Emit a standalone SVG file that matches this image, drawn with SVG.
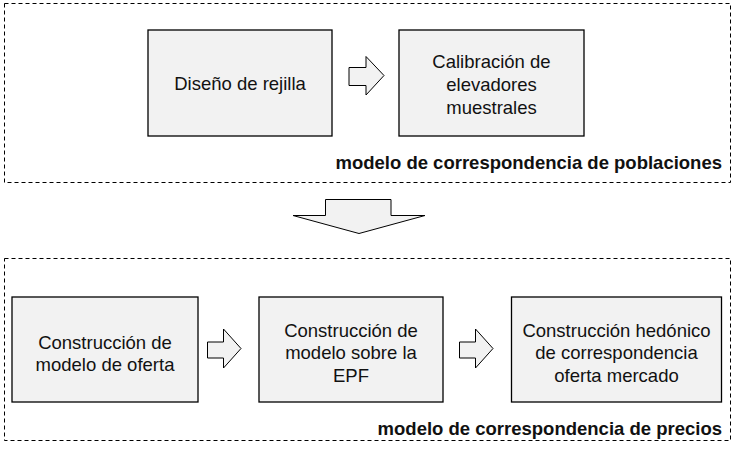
<svg xmlns="http://www.w3.org/2000/svg" width="735" height="454" viewBox="0 0 735 454">
<style>
.grp{fill:none;stroke:#000;stroke-width:1;stroke-dasharray:4 3}
.box{fill:#f2f2f2;stroke:#000;stroke-width:1.3}
.arr{fill:#f2f2f2;stroke:#000;stroke-width:1}
text{font-family:"Liberation Sans",Arial,sans-serif;fill:#111}
.t{font-size:18.5px;text-anchor:middle}
.lbl{font-size:18.5px;font-weight:bold;text-anchor:end}
</style>
<rect width="735" height="454" fill="#fff"/>
<g id="grupo-poblaciones">
<rect class="grp" x="4.5" y="3.5" width="726" height="179"/>
<text class="lbl" x="722" y="169">modelo de correspondencia de poblaciones</text>
</g>
<g id="grupo-precios">
<rect class="grp" x="4.5" y="258.5" width="726" height="182"/>
<text class="lbl" x="722" y="435">modelo de correspondencia de precios</text>
</g>
<g id="n1">
<rect class="box" x="148" y="30" width="184" height="106"/>
<text class="t" x="240" y="89.5">Diseño de rejilla</text>
</g>
<g id="n2">
<rect class="box" x="399" y="30" width="185" height="106"/>
<text class="t" x="491.5"><tspan x="491.5" y="67.5">Calibración de</tspan><tspan x="491.5" y="90.5">elevadores</tspan><tspan x="491.5" y="113.5">muestrales</tspan></text>
</g>
<g id="n3">
<rect class="box" x="12" y="297" width="186" height="105"/>
<text class="t" x="105"><tspan x="105" y="349">Construcción de</tspan><tspan x="105" y="371">modelo de oferta</tspan></text>
</g>
<g id="n4">
<rect class="box" x="259" y="297" width="184" height="105"/>
<text class="t" x="351"><tspan x="351" y="336.5">Construcción de</tspan><tspan x="351" y="359">modelo sobre la</tspan><tspan x="351" y="381.5">EPF</tspan></text>
</g>
<g id="n5">
<rect class="box" x="511.5" y="297" width="210" height="105"/>
<text class="t" x="616.5"><tspan x="616.5" y="336.5">Construcción hedónico</tspan><tspan x="616.5" y="359">de correspondencia</tspan><tspan x="616.5" y="381.5">oferta mercado</tspan></text>
</g>
<g id="connectors">
<path class="arr" d="M349,67.5 H366 V56.5 L384,75.5 L366,95 V85.5 H349 Z"/>
<path class="arr" d="M207.5,342 H223.5 V329 L241,348.5 L223.5,368 V358 H207.5 Z"/>
<path class="arr" d="M459.5,342 H475.5 V329 L493,348.5 L475.5,368 V358 H459.5 Z"/>
<path class="arr" d="M325.5,199.5 H391 V215.5 H425 L359,233.5 L293,215.5 H325.5 Z"/>
</g>
</svg>
